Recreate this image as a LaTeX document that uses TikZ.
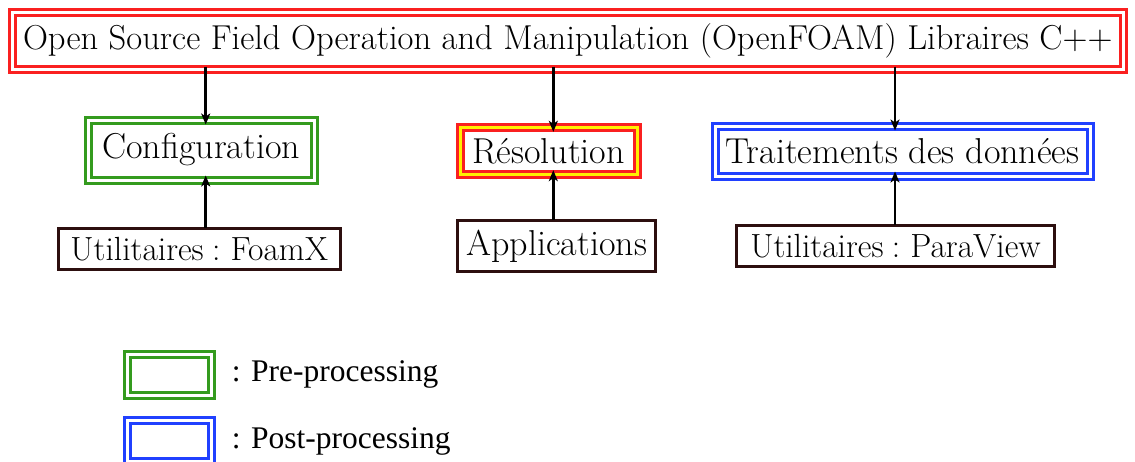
\documentclass[tikz,border=0pt]{standalone}
\usepackage{fontspec}
\newfontfamily\legendfont{Liberation Serif}
\usetikzlibrary{arrows.meta}
\definecolor{myred}{RGB}{250,32,32}
\definecolor{mygreen}{RGB}{52,155,30}
\definecolor{myblue}{RGB}{32,64,255}
\definecolor{mybrown}{RGB}{45,15,15}
\definecolor{myyellow}{RGB}{255,240,0}
\begin{document}
\begin{tikzpicture}[x=1pt,y=-1pt,
  txt/.style={font=\fontsize{36}{42}\selectfont, inner sep=0pt, align=center},
  dbox/.style={txt, line width=3pt, double distance=3pt, double=white, rectangle},
  redbox/.style={dbox, draw=myred},
  greenbox/.style={dbox, draw=mygreen},
  bluebox/.style={dbox, draw=myblue},
  resbox/.style={dbox, draw=myred, double=myyellow},
  brownbox/.style={txt, draw=mybrown, line width=3pt, rectangle},
  utilfont/.style={font=\fontsize{33.5}{40}\selectfont},
  arr/.style={line width=2.6pt, -{Stealth[length=11pt,width=9pt,inset=3pt]}},
  legtxt/.style={font=\legendfont\fontsize{31.5}{38}\selectfont, inner sep=0pt, anchor=base west}
]
\useasboundingbox (0,0) rectangle (1135,461);
\node[redbox, font=\fontsize{34.6}{40}\selectfont, minimum width=1110.5pt, minimum height=56.5pt] (title) at (567.75,40.75) {Open Source Field Operation and Manipulation (OpenFOAM) Libraires C++};
\node[greenbox, minimum width=226.5pt, minimum height=60pt] (cfg) at (201.25,150) {Configuration};
\node[resbox, minimum width=177pt, minimum height=47.4pt] (res) at (548.5,151) {Résolution};
\node[bluebox, minimum width=375pt, minimum height=50pt] (trt) at (902.5,151) {Traitements des données};
\node[brownbox, utilfont, minimum width=282pt, minimum height=41pt] (foam) at (199.2,248.7) {Utilitaires\hspace{0.25em}:\hspace{0.3em}FoamX};
\node[brownbox, minimum width=198.3pt, minimum height=50.4pt] (app) at (556.7,246) {Applications};
\node[brownbox, utilfont, minimum width=318pt, minimum height=41.3pt] (pv) at (895.5,246.2) {Utilitaires\hspace{0.25em}:\hspace{0.3em}ParaView};
\coordinate (a1) at (205.7,0);
\coordinate (a2) at (553.3,0);
\coordinate (a3) at (895,0);
\draw[arr, shorten <=-4pt, shorten >=-6pt] (title.south -| a1) -- (cfg.north -| a1);
\draw[arr, shorten <=-4pt, shorten >=-6pt] (title.south -| a2) -- (res.north -| a2);
\draw[arr, shorten <=-4pt, shorten >=-6pt] (title.south -| a3) -- (trt.north -| a3);
\draw[arr, shorten <=-1pt, shorten >=-6pt] (foam.north -| a1) -- (cfg.south -| a1);
\draw[arr, shorten <=-1pt, shorten >=-6pt] (app.north -| a2) -- (res.south -| a2);
\draw[arr, shorten <=-1pt, shorten >=-6pt] (pv.north -| a3) -- (trt.south -| a3);
\node[greenbox, minimum width=84.4pt, minimum height=41pt] (lg) at (169.5,374.5) {};
\node[bluebox, minimum width=84.4pt, minimum height=41pt] (lb) at (169.5,441.2) {};
\node[legtxt] (lgt) at (231.7,381.7) {: Pre-processing};
\node[legtxt] (lbt) at (231.7,448) {: Post-processing};
\end{tikzpicture}
\end{document}
